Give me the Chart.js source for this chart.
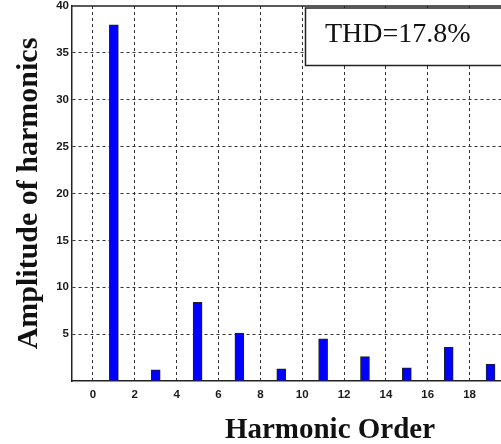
<!DOCTYPE html>
<html>
<head>
<meta charset="utf-8">
<script src="https://cdn.jsdelivr.net/npm/chart.js@4"></script>
<style>
  html, body { margin: 0; padding: 0; background: #fff; overflow: hidden; }
  #thdChart { display: block; }
</style>
</head>
<body>
<canvas id="thdChart" width="501" height="444"></canvas>
<script>
// harmonic spectrum data
const harmonicOrders = [0, 1, 2, 3, 4, 5, 6, 7, 8, 9, 10, 11, 12, 13, 14, 15, 16, 17, 18, 19];
const amplitudes = [0, 38.0, 0, 1.2, 0, 8.4, 0, 5.1, 0, 1.3, 0, 4.5, 0, 2.6, 0, 1.4, 0, 3.6, 0, 1.8];
const xTickValues = [0, 2, 4, 6, 8, 10, 12, 14, 16, 18];
const thdLabel = 'THD=17.8%';
const xTitle = 'Harmonic Order';
const yTitle = 'Amplitude of harmonics';

const gridColor = '#333';
const tickFont = { family: "'Liberation Sans', Arial, sans-serif", size: 11.5, weight: 'bold' };

// frame line on top, the THD box and the x title
const extrasPlugin = {
    id: 'extras',
    afterDraw(chart) {
        const { ctx, chartArea } = chart;
        ctx.save();
        ctx.strokeStyle = '#222';
        ctx.lineWidth = 1.5;
        ctx.beginPath();
        ctx.moveTo(chartArea.left, chartArea.top);
        ctx.lineTo(chartArea.right, chartArea.top);
        ctx.stroke();

        // THD box
        ctx.fillStyle = '#fff';
        ctx.fillRect(305, 8, 210, 57);
        ctx.strokeRect(305.5, 8, 210, 57.5);
        ctx.fillStyle = '#111';
        ctx.font = "28px 'Liberation Serif', 'Times New Roman', serif";
        ctx.textBaseline = 'alphabetic';
        ctx.textAlign = 'left';
        ctx.fillText(thdLabel, 325, 42);

        ctx.font = "bold 29px 'Liberation Serif', 'Times New Roman', serif";
        ctx.textAlign = 'center';
        ctx.fillText(xTitle, 330, 438);
        ctx.restore();
    }
};

const ctx = document.getElementById('thdChart').getContext('2d');
new Chart(ctx, {
    type: 'bar',
    data: {
        datasets: [{
            data: harmonicOrders.map((h, i) => ({ x: h, y: amplitudes[i] })),
            backgroundColor: '#0000ff',
            borderColor: '#222',
            borderWidth: 1,
            barThickness: 9
        }]
    },
    options: {
        responsive: false,
        animation: false,
        layout: { padding: { top: 6, right: 0, bottom: 0, left: 0 } },
        plugins: {
            legend: { display: false },
            tooltip: { enabled: false }
        },
        scales: {
            x: {
                type: 'linear',
                offset: false,
                min: -1,
                max: 19.5,
                afterBuildTicks: (axis) => { axis.ticks = xTickValues.map(v => ({ value: v })); },
                afterFit: (axis) => { axis.height = 63; axis.paddingLeft = 0; axis.paddingRight = 0; },
                ticks: {
                    color: '#1a1a1a',
                    font: tickFont,
                    padding: 7,
                    maxRotation: 0,
                    autoSkip: false
                },
                grid: {
                    offset: false,
                    color: gridColor,
                    lineWidth: 1,
                    drawTicks: false
                },
                border: { display: true, color: '#222', width: 1.5, dash: [3, 3] }
            },
            y: {
                min: 0,
                max: 40,
                afterFit: (axis) => { axis.width = 72; axis.paddingTop = 0; axis.paddingBottom = 0; },
                ticks: {
                    stepSize: 5,
                    color: '#1a1a1a',
                    font: tickFont,
                    padding: 3,
                    callback: (v) => (v === 0 ? '' : v)
                },
                grid: {
                    color: (c) => (c.tick && (c.tick.value === 0 || c.tick.value === 40) ? 'rgba(0,0,0,0)' : gridColor),
                    lineWidth: 1,
                    drawTicks: false
                },
                border: { display: true, color: '#222', width: 1.5, dash: [3, 3] },
                title: {
                    display: true,
                    text: yTitle,
                    color: '#111',
                    font: { family: "'Liberation Serif', 'Times New Roman', serif", size: 30, weight: 'bold', lineHeight: 1 },
                    padding: { top: 14, bottom: 0 }
                }
            }
        }
    },
    plugins: [extrasPlugin]
});
</script>
</body>
</html>
